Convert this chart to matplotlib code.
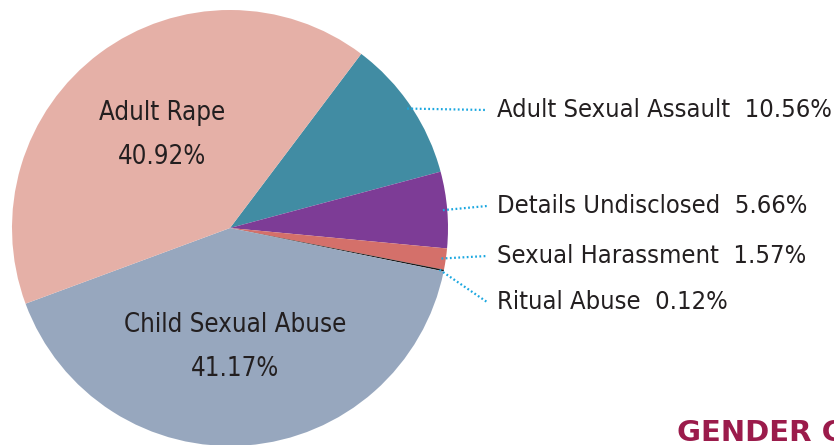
import numpy as np
import matplotlib.pyplot as plt

# data
categories = ["Adult Sexual Assault", "Details Undisclosed", "Sexual Harassment",
              "Ritual Abuse", "Child Sexual Abuse", "Adult Rape"]
shares = [10.56, 5.66, 1.57, 0.12, 41.17, 40.92]
colors = ["#418ca3", "#7d3c96", "#d4706a", "#1a1a1a", "#97a7be", "#e5b0a7"]

outside = ["Adult Sexual Assault", "Details Undisclosed", "Sexual Harassment", "Ritual Abuse"]
label_y = [110, 206, 256, 302]   # image-pixel rows of the outside labels

W, H = 834, 445
fig = plt.figure(figsize=(W / 100, H / 100), dpi=100)
ax = fig.add_axes([0, 0, 1, 1])

cx, cy, R = 230, H - 228, 218
wedges, _ = ax.pie(shares, colors=colors, startangle=53, counterclock=False,
                   center=(cx, cy), radius=R, wedgeprops=dict(linewidth=0))
ax.set_xlim(0, W)
ax.set_ylim(0, H)
ax.set_aspect("equal", adjustable="box")
ax.axis("off")

fam = "DejaVu Sans"
st = "condensed"
txt = "#231f20"
lead = "#1aa7e0"

# inner labels
ax.text(162, H - 135, "Adult Rape\n40.92%", ha="center", va="center",
        fontsize=18.5, family=fam, stretch=st, color=txt, linespacing=1.95)
ax.text(235, H - 347, "Child Sexual Abuse\n41.17%", ha="center", va="center",
        fontsize=18.5, family=fam, stretch=st, color=txt, linespacing=1.95)

# outside labels with dotted leaders
for name, y in zip(outside, label_y):
    i = categories.index(name)
    w = wedges[i]
    mid = np.deg2rad((w.theta1 + w.theta2) / 2)
    x0 = cx + 0.98 * R * np.cos(mid)
    y0 = cy + 0.98 * R * np.sin(mid)
    ax.plot([x0, 487], [y0, H - y], color=lead, lw=1.6, linestyle=(0, (0.8, 1.1)))
    ax.text(497, H - y, f"{name}  {shares[i]:.2f}%", ha="left", va="center",
            fontsize=18.3, family=fam, stretch=st, color=txt)

ax.text(677, H - 433, "GENDER C", ha="left", va="center", fontsize=21,
        family="DejaVu Sans", fontweight="bold", color="#9b1b4b")

fig.savefig("out.png", dpi=100)
